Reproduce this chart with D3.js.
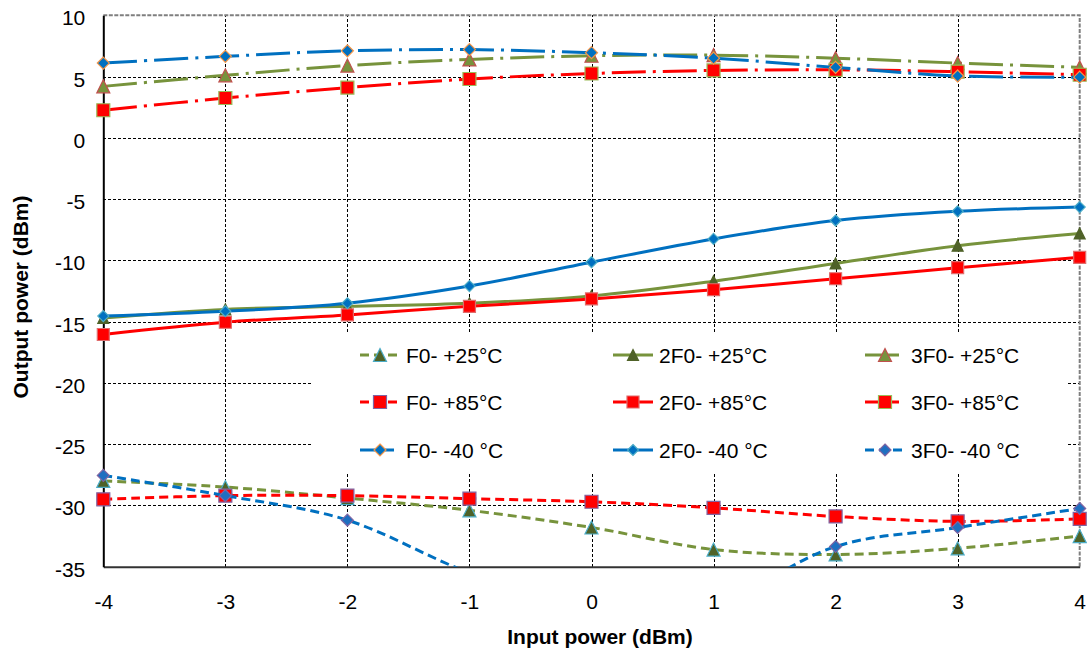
<!DOCTYPE html>
<html>
<head>
<meta charset="utf-8">
<script src="https://cdn.jsdelivr.net/npm/d3@7"></script>
<style>
    body { margin: 0; background: #fff; }
    svg text { font-family: "Liberation Sans", Arial, sans-serif; fill: #000; }
    .tick-label { font-size: 21px; }
    .axis-title { font-size: 21px; font-weight: bold; }
    .legend-text { font-size: 21px; }
</style>
</head>
<body>
<div id="chart"></div>
<script>
///// DATA //////
let inputPower = [-4, -3, -2, -1, 0, 1, 2, 3, 4];
let yTicks = [-35, -30, -25, -20, -15, -10, -5, 0, 5, 10];

let f0_p25 = [-28.0, -28.5, -29.4, -30.4, -31.8, -33.6, -34.0, -33.5, -32.5];
let f0_p85 = [-29.5, -29.2, -29.2, -29.45, -29.7, -30.2, -30.9, -31.3, -31.1];
let f0_m40 = [6.1, 6.65, 7.1, 7.2, 6.95, 6.5, 5.75, 5.05, 4.95];

let f2_p25 = [-14.7, -14.0, -13.75, -13.5, -12.9, -11.7, -10.25, -8.8, -7.8];
let f2_p85 = [-16.05, -15.05, -14.45, -13.75, -13.15, -12.4, -11.5, -10.6, -9.75];
let f2_m40 = [-14.55, -14.15, -13.5, -12.1, -10.15, -8.25, -6.75, -6.0, -5.65];

let f3_p25 = [4.2, 5.1, 5.9, 6.4, 6.7, 6.75, 6.5, 6.1, 5.75];
let f3_p85 = [2.25, 3.25, 4.1, 4.8, 5.25, 5.5, 5.55, 5.4, 5.15];
let f3_m40 = [-27.55, -29.2, -31.2, -35.5, -38.5, -38.0, -33.35, -31.8, -30.25];

let seriesNames = ['F0- +25°C', '2F0- +25°C', '3F0- +25°C',
                   'F0- +85°C', '2F0- +85°C', '3F0- +85°C',
                   'F0- -40 °C', '2F0- -40 °C', '3F0- -40 °C'];
let seriesValues = [f0_p25, f2_p25, f3_p25, f0_p85, f2_p85, f3_p85, f0_m40, f2_m40, f3_m40];

///// STYLES //////
let GREEN = '#77933c', RED = '#ff0000', BLUE = '#0070c0';
let DASH = '9,5', DASHDOT = '34,7,3,7';

let seriesStyles = [
    {color: GREEN, dash: DASH,    marker: 'triangle', size: 13, fill: '#4f6228', outline: '#4bacc6'},
    {color: GREEN, dash: null,    marker: 'triangle', size: 11, fill: '#4f6228', outline: '#4f6228'},
    {color: GREEN, dash: DASHDOT, marker: 'triangle', size: 13, fill: '#77933c', outline: '#c0504d'},
    {color: RED,   dash: DASH,    marker: 'square',   size: 13, fill: '#ff0000', outline: '#8064a2'},
    {color: RED,   dash: null,    marker: 'square',   size: 12, fill: '#ff0000', outline: '#e06c6c'},
    {color: RED,   dash: DASHDOT, marker: 'square',   size: 13, fill: '#ff0000', outline: '#9bbb59'},
    {color: BLUE,  dash: DASHDOT, marker: 'diamond',  size: 12, fill: '#0070c0', outline: '#f79646'},
    {color: BLUE,  dash: null,    marker: 'diamond',  size: 11, fill: '#0070c0', outline: '#4bacc6'},
    {color: BLUE,  dash: DASH,    marker: 'diamond',  size: 12, fill: '#1f6fc0', outline: '#8064a2'}
];

let margin = {top: 15.3, right: 7.3, bottom: 84.3, left: 103.3};
let totalW = 1087, totalH = 651;
let width = totalW - margin.left - margin.right,
    height = totalH - margin.top - margin.bottom;

drawChart();

function markerPath(type, s) {
    let h = s / 2;
    if (type == 'triangle') {
        return 'M0,' + (-h) + 'L' + h + ',' + h + 'L' + (-h) + ',' + h + 'Z';
    } else if (type == 'square') {
        return 'M' + (-h) + ',' + (-h) + 'H' + h + 'V' + h + 'H' + (-h) + 'Z';
    }
    return 'M0,' + (-h) + 'L' + h + ',0L0,' + h + 'L' + (-h) + ',0Z';
}

function drawChart() {
    let svg = d3.select('#chart')
        .append('svg')
        .attr('width', totalW)
        .attr('height', totalH);

    let chart = svg.append('g')
        .attr('transform', 'translate(' + margin.left + ',' + margin.top + ')');

    let x = d3.scaleLinear().domain([-4, 4]).range([0, width]);
    let y = d3.scaleLinear().domain([-35, 10]).range([height, 0]);

    //Gridlines
    chart.append('g')
        .attr('transform', 'translate(0,' + height + ')')
        .call(d3.axisBottom(x).tickValues(inputPower.slice(1, -1)).tickSize(-height).tickFormat(''))
        .call(g => g.select('.domain').remove())
        .call(g => g.selectAll('.tick line')
            .attr('stroke', '#000').attr('stroke-width', 1).attr('stroke-dasharray', '3,2')
            .attr('shape-rendering', 'crispEdges'));

    chart.append('g')
        .call(d3.axisLeft(y).tickValues(yTicks.slice(1, -1)).tickSize(-width).tickFormat(''))
        .call(g => g.select('.domain').remove())
        .call(g => g.selectAll('.tick line')
            .attr('stroke', '#000').attr('stroke-width', 1).attr('stroke-dasharray', '3,2')
            .attr('shape-rendering', 'crispEdges'));

    //Plot border (top & right)
    chart.append('path')
        .attr('d', 'M0,0H' + width + 'V' + height)
        .attr('fill', 'none')
        .attr('stroke', '#7f7f7f')
        .attr('stroke-width', 2)
        .attr('stroke-dasharray', '4,1.5');

    //Legend background hides the grid behind it
    let legend = chart.append('g');
    legend.append('rect')
        .attr('x', 312 - margin.left)
        .attr('y', 333 - margin.top)
        .attr('width', 1067 - 312)
        .attr('height', 473 - 333)
        .attr('fill', '#fff');

    //Axes
    chart.append('g')
        .attr('transform', 'translate(0,' + height + ')')
        .call(d3.axisBottom(x).tickValues(inputPower).tickSize(0).tickPadding(27).tickFormat(d => '' + d))
        .call(g => g.select('.domain').attr('stroke', '#333').attr('stroke-width', 2))
        .call(g => g.selectAll('.tick text').attr('class', 'tick-label').attr('dy', '0.71em'));

    chart.append('g')
        .call(d3.axisLeft(y).tickValues(yTicks).tickSize(0).tickPadding(18).tickFormat(d => '' + d))
        .call(g => g.select('.domain').attr('stroke', '#000').attr('stroke-width', 2))
        .call(g => g.selectAll('.tick text').attr('class', 'tick-label').attr('dy', '0.45em'));

    //Series
    chart.append('clipPath')
        .attr('id', 'plotClip')
        .append('rect')
        .attr('width', width)
        .attr('height', height);

    let line = d3.line()
        .x((d, i) => x(inputPower[i]))
        .y(d => y(d))
        .curve(d3.curveCardinal.tension(0));

    seriesValues.forEach(function(values, k) {
        let st = seriesStyles[k];
        let g = chart.append('g');
        g.append('path')
            .datum(values)
            .attr('clip-path', 'url(#plotClip)')
            .attr('fill', 'none')
            .attr('stroke', st.color)
            .attr('stroke-width', 3)
            .attr('stroke-dasharray', st.dash)
            .attr('d', line);

        g.selectAll('path.marker')
            .data(values.map((v, i) => ({x: inputPower[i], v: v})).filter(d => d.v >= -35 && d.v <= 10))
            .enter()
            .append('path')
            .attr('class', 'marker')
            .attr('transform', d => 'translate(' + x(d.x) + ',' + y(d.v) + ')')
            .attr('d', markerPath(st.marker, st.size))
            .attr('fill', st.fill)
            .attr('stroke', st.outline)
            .attr('stroke-width', 1.2);
    });

    //Legend entries
    let colX = [360, 613, 865];
    let rowY = [355, 402, 450];
    seriesNames.forEach(function(name, k) {
        let st = seriesStyles[k];
        let lx = colX[k % 3] - margin.left;
        let ly = rowY[Math.floor(k / 3)] - margin.top;
        let item = legend.append('g').attr('transform', 'translate(' + lx + ',' + ly + ')');
        item.append('line')
            .attr('x1', 0).attr('x2', 40)
            .attr('stroke', st.color)
            .attr('stroke-width', 3)
            .attr('stroke-dasharray', st.dash);
        item.append('path')
            .attr('transform', 'translate(20,0)')
            .attr('d', markerPath(st.marker, st.size))
            .attr('fill', st.fill)
            .attr('stroke', st.outline)
            .attr('stroke-width', 1.2);
        item.append('text')
            .attr('class', 'legend-text')
            .attr('x', 46)
            .attr('dy', '0.36em')
            .text(name);
    });

    //Axis titles
    svg.append('text')
        .attr('class', 'axis-title')
        .attr('x', 600)
        .attr('y', 644)
        .attr('text-anchor', 'middle')
        .text('Input power (dBm)');

    svg.append('text')
        .attr('class', 'axis-title')
        .attr('transform', 'translate(28,297) rotate(-90)')
        .attr('text-anchor', 'middle')
        .text('Output power (dBm)');
}
</script>
</body>
</html>
